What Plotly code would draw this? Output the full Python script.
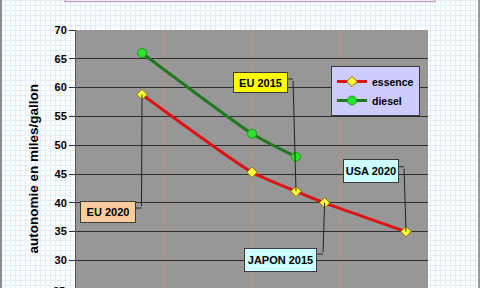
import plotly.graph_objects as go

# ---- data ----
essence_x = [95, 120, 130, 136.5, 155]
essence_y = [58.8, 45.3, 42.0, 40.0, 35.0]
diesel_x = [95, 120, 130]
diesel_y = [66.0, 52.0, 48.0]
y_ticks = [30, 35, 40, 45, 50, 55, 60, 65, 70]
labels = ["EU 2015", "EU 2020", "JAPON 2015", "USA 2020"]
label_points = [(130, 42.0), (95, 58.8), (136.5, 40.0), (155, 35.0)]

W, H = 480, 288
L, R, T, B = 76, 52, 30, 0
PW, PH = W - L - R, H - T - B

def fx(px):
    return (px - L) / PW

def fy(py):
    return (H - B - py) / PH

FONT = "Liberation Sans, Arial, sans-serif"

fig = go.Figure()
fig.add_trace(go.Scatter(
    x=essence_x, y=essence_y, name="essence", mode="lines+markers",
    line=dict(color="#dd1414", width=3, shape="spline", smoothing=0.6),
    marker=dict(symbol="diamond", size=8, color="#ffff3c",
                line=dict(color="#8a7000", width=1)),
))
fig.add_trace(go.Scatter(
    x=diesel_x, y=diesel_y, name="diesel", mode="lines+markers",
    line=dict(color="#1f7a1f", width=3, shape="spline", smoothing=0.6),
    marker=dict(symbol="circle", size=9, color="#30e030",
                line=dict(color="#14a014", width=1)),
))

shapes = []
# graph paper background
segs = []
for gx in range(0, W + 1, 5):
    segs.append(f"M{fx(gx + 0.5):.5f},{fy(0):.5f}L{fx(gx + 0.5):.5f},{fy(H):.5f}")
for gy in range(0, H + 1, 5):
    segs.append(f"M{fx(0):.5f},{fy(gy + 0.5):.5f}L{fx(W):.5f},{fy(gy + 0.5):.5f}")
shapes.append(dict(type="path", xref="paper", yref="paper", path="".join(segs),
                   line=dict(color="#e1eef5", width=1), layer="below"))
# plot area grey
shapes.append(dict(type="rect", xref="paper", yref="paper", x0=0, x1=1, y0=0, y1=1,
                   fillcolor="#979797", line=dict(width=0), layer="below"))
# top title box edge
shapes.append(dict(type="rect", xref="paper", yref="paper",
                   x0=fx(65), x1=fx(435), y0=fy(1.5), y1=fy(-6),
                   fillcolor="#ffffff", line=dict(color="#c4a4c8", width=1.5), layer="below"))
# frame borders
shapes.append(dict(type="line", xref="paper", yref="paper", x0=fx(1), x1=fx(1),
                   y0=fy(0), y1=fy(H), line=dict(color="#8c8c8c", width=2)))
shapes.append(dict(type="line", xref="paper", yref="paper", x0=fx(479), x1=fx(479),
                   y0=fy(0), y1=fy(H), line=dict(color="#9a9a9a", width=2)))

annotations = []
# callout boxes: (center px x, center px y, w, h, bg)
boxes = [
    (260.6, 82.7, 55, 21, "#ffff00"),
    (108.0, 212.3, 56, 22, "#fbcd9e"),
    (280.7, 260.3, 73, 24, "#ccffff"),
    (370.7, 171.3, 56, 24, "#ccffff"),
]
# leader start (px) and stub end on box edge (px)
leaders = [
    ((293.0, 79.0), (288.3, 79.0)),
    ((141.5, 208.0), (136.0, 208.0)),
    ((323.0, 254.0), (317.3, 254.0)),
    ((404.0, 166.7), (398.7, 166.7)),
]

Y0 = 70 - PH / 5.76

def data_to_px(x, y):
    px = L + (x - 80) / 80 * PW
    py = T + (70 - y) / (70 - Y0) * PH
    return px, py

for text, (cx, cy, bw, bh, bg), (pt_x, pt_y), (start, stub) in zip(labels, boxes, label_points, leaders):
    annotations.append(dict(
        text=text, xref="paper", yref="paper", x=fx(cx), y=fy(cy),
        xanchor="center", yanchor="middle", showarrow=False,
        width=bw - 2, height=bh - 2, borderpad=0, borderwidth=1,
        bordercolor="#3a3a3a", bgcolor=bg,
        font=dict(family=FONT, size=11, color="#000000", weight="bold"),
    ))
    ppx, ppy = data_to_px(pt_x, pt_y)
    annotations.append(dict(
        text=" ", x=pt_x, y=pt_y, xref="x", yref="y",
        showarrow=True, arrowhead=0, arrowwidth=1, arrowcolor="#222222",
        standoff=0, ax=start[0] - ppx, ay=start[1] - ppy, font=dict(size=1),
    ))
    shapes.append(dict(type="line", xref="paper", yref="paper",
                       x0=fx(start[0]), y0=fy(start[1]), x1=fx(stub[0]), y1=fy(stub[1]),
                       line=dict(color="#222222", width=1)))

# y title
annotations.append(dict(
    text="autonomie en miles/gallon", xref="paper", yref="paper",
    x=fx(33), y=fy(168.5), xanchor="center", yanchor="middle", textangle=-90,
    showarrow=False, font=dict(family=FONT, size=13.5, color="#000000", weight="bold"),
))
# partially visible 25 tick label
annotations.append(dict(
    text="25", xref="paper", yref="paper", x=fx(67), y=fy(T + (70 - 25) * 5.76 + 2),
    xanchor="right", yanchor="middle", showarrow=False,
    font=dict(family=FONT, size=11, color="#000000", weight="bold"),
))

fig.update_layout(
    width=W, height=H, margin=dict(l=L, r=R, t=T, b=B, pad=0),
    paper_bgcolor="#fbfdfe", plot_bgcolor="rgba(0,0,0,0)",
    shapes=shapes, annotations=annotations,
    showlegend=True,
    legend=dict(x=fx(331), y=fy(66), xanchor="left", yanchor="top",
                bgcolor="#ccccff", bordercolor="#3a3a3a", borderwidth=1,
                itemwidth=30, tracegroupgap=0,
                font=dict(family=FONT, size=10.5, color="#000000", weight="bold")),
    xaxis=dict(range=[80, 160], tick0=80, dtick=20, showticklabels=False,
               showgrid=True, gridcolor="#c38d77", gridwidth=1, zeroline=False,
               ticks="", showline=False, fixedrange=True),
    yaxis=dict(range=[Y0, 70], tickvals=y_ticks, showgrid=True, gridcolor="#2e2e2e",
               gridwidth=1, zeroline=False, ticks="outside", ticklen=6,
               tickcolor="#333333", showline=True, linecolor="#555555", linewidth=1,
               tickfont=dict(family=FONT, size=11, color="#000000", weight="bold"),
               fixedrange=True),
)

fig.write_html("out.html")
